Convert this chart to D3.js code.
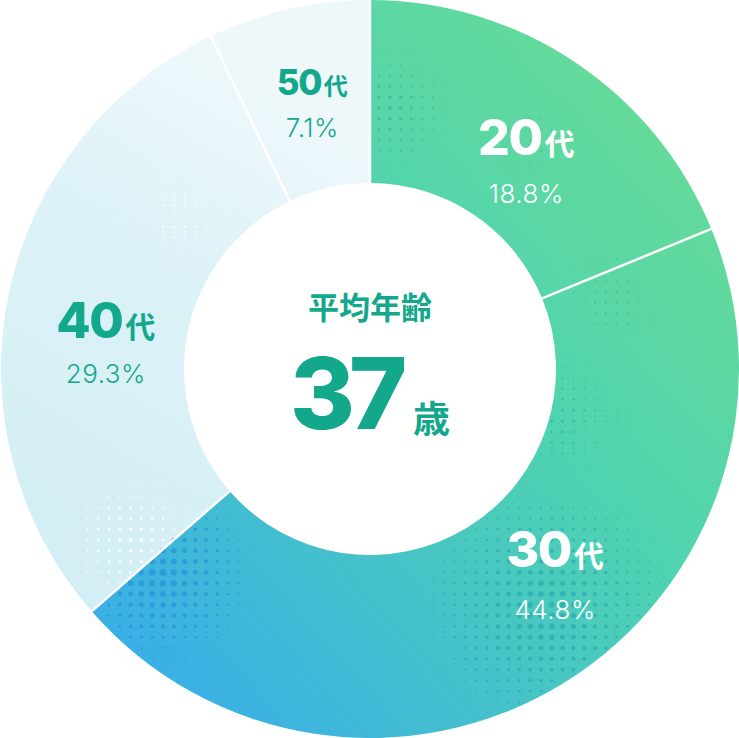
<!DOCTYPE html>
<html>
<head>
<meta charset="utf-8">
<script src="https://d3js.org/d3.v7.min.js"></script>
<style>
  body { margin: 0; background: #fff; }
  svg { display: block; }
  text { font-family: Inter, "Noto Sans CJK JP", sans-serif; }
</style>
</head>
<body>
<svg id="donut"></svg>
<script>
// ---- data ----
const ages = ["20", "30", "40", "50"];
const shares = [18.8, 44.8, 29.3, 7.1];
const shareLabels = ["18.8%", "44.8%", "29.3%", "7.1%"];
const averageAge = "37";

// ---- layout ----
const width = 739, height = 738;
const cx = 370, cy = 369;
const rOuter = 369, rInner = 186;

const svg = d3.select("#donut")
    .attr("width", width)
    .attr("height", height);

const defs = svg.append("defs");

// strong gradient for 20s / 30s
const gStrong = defs.append("linearGradient")
    .attr("id", "gStrong")
    .attr("gradientUnits", "userSpaceOnUse")
    .attr("x1", 700).attr("y1", 120).attr("x2", 90).attr("y2", 680);
gStrong.append("stop").attr("offset", 0).attr("stop-color", "#69dc95");
gStrong.append("stop").attr("offset", 0.42).attr("stop-color", "#4fd3b0");
gStrong.append("stop").attr("offset", 1).attr("stop-color", "#39ade9");

// pale gradient for 40s / 50s
const gPale = defs.append("linearGradient")
    .attr("id", "gPale")
    .attr("gradientUnits", "userSpaceOnUse")
    .attr("x1", 370).attr("y1", 0).attr("x2", 40).attr("y2", 560);
gPale.append("stop").attr("offset", 0).attr("stop-color", "#eef8fb");
gPale.append("stop").attr("offset", 0.3).attr("stop-color", "#dcf2f7");
gPale.append("stop").attr("offset", 1).attr("stop-color", "#cfecf4");

const fills = ["url(#gStrong)", "url(#gStrong)", "url(#gPale)", "url(#gPale)"];
const textColor = ["#ffffff", "#ffffff", "#13a88c", "#13a88c"];

const pie = d3.pie().sort(null).value(d => d)(shares);
const arc = d3.arc().innerRadius(rInner).outerRadius(rOuter);

const chart = svg.append("g").attr("transform", `translate(${cx},${cy})`);

chart.selectAll("path.seg")
  .data(pie)
  .join("path")
    .attr("class", "seg")
    .attr("d", arc)
    .attr("fill", (d, i) => fills[i]);

// halftone dots (decoration only), each patch kept inside one segment
const blobs = [
  {x: -210, y: 206, r: 110, max: 3.6, c: "#2a8fdc", o: 0.7, seg: 1},
  {x: -240, y: 171, r: 85, max: 2.2, c: "#ffffff", o: 0.8, seg: 2},
  {x: 175, y: 240, r: 150, max: 3.2, c: "#1fa3ae", o: 0.55, seg: 1},
  {x: 190, y: 50, r: 100, max: 1.6, c: "#1fa3ae", o: 0.5, seg: 1},
  {x: 240, y: -69, r: 80, max: 1.4, c: "#2fb089", o: 0.45, seg: -1},
  {x: 170, y: -229, r: 80, max: 1.4, c: "#3ab384", o: 0.45, seg: 0},
  {x: 20, y: -259, r: 80, max: 2.0, c: "#2fb089", o: 0.55, seg: 0},
  {x: -195, y: -149, r: 95, max: 1.5, c: "#ffffff", o: 0.85, seg: 2}
];
function segOf(x, y) {
  let a = Math.atan2(x, -y);
  if (a < 0) a += 2 * Math.PI;
  return pie.findIndex(p => a >= p.startAngle && a < p.endAngle);
}
const step = 10.8;
const dots = [];
for (let y = -rOuter; y <= rOuter; y += step) {
  for (let x = -rOuter; x <= rOuter; x += step) {
    const rr = Math.hypot(x, y);
    if (rr < rInner + 3 || rr > rOuter - 3) continue;
    const s = segOf(x, y);
    blobs.forEach(b => {
      if (b.seg >= 0 && b.seg !== s) return;
      const d = Math.hypot(x - b.x, y - b.y);
      if (d < b.r) {
        const size = b.max * (1 - d / b.r);
        if (size > 0.5) dots.push({x, y, size, c: b.c, o: b.o});
      }
    });
  }
}
chart.append("g")
  .selectAll("circle")
  .data(dots)
  .join("circle")
    .attr("cx", d => d.x).attr("cy", d => d.y)
    .attr("r", d => d.size)
    .attr("fill", d => d.c)
    .attr("opacity", d => d.o);

// separators
chart.selectAll("line.sep")
  .data(pie)
  .join("line")
    .attr("class", "sep")
    .attr("x1", d => rInner * Math.sin(d.startAngle))
    .attr("y1", d => -rInner * Math.cos(d.startAngle))
    .attr("x2", d => (rOuter + 2) * Math.sin(d.startAngle))
    .attr("y2", d => -(rOuter + 2) * Math.cos(d.startAngle))
    .attr("stroke", "#fff")
    .attr("stroke-width", 2.5);

// labels
const labelShift = [2.3, -11.4, -5, 0.9];   // degrees off the slice middle
const labelRadius = [265, 271, 266, 280];
const numSize = [50, 50, 50, 35];
const kanjiSize = [30, 30, 30, 24];
const pctSize = [26, 26, 26, 26];
const pctGap = [48, 52, 45, 42];

const lab = chart.selectAll("g.lab")
  .data(pie)
  .join("g")
    .attr("class", "lab")
    .attr("transform", (d, i) => {
      const a = (d.startAngle + d.endAngle) / 2 + labelShift[i] * Math.PI / 180;
      return `translate(${labelRadius[i] * Math.sin(a)},${-labelRadius[i] * Math.cos(a)})`;
    });

const head = lab.append("text")
    .attr("text-anchor", "middle")
    .attr("fill", (d, i) => textColor[i])
    .attr("font-weight", 800);
head.append("tspan")
    .attr("font-size", (d, i) => numSize[i])
    .attr("font-family", "Inter, sans-serif")
    .attr("letter-spacing", -1.5)
    .text((d, i) => ages[i]);
head.append("tspan")
    .attr("font-size", (d, i) => kanjiSize[i])
    .attr("font-family", "'Noto Sans CJK JP', sans-serif")
    .attr("font-weight", 700)
    .attr("dx", 3)
    .text("代");

lab.append("text")
    .attr("text-anchor", "middle")
    .attr("y", (d, i) => pctGap[i])
    .attr("fill", (d, i) => textColor[i])
    .attr("font-size", (d, i) => pctSize[i])
    .attr("font-weight", 300)
    .attr("letter-spacing", 0.5)
    .text((d, i) => shareLabels[i]);

// centre
chart.append("text")
    .attr("text-anchor", "middle")
    .attr("y", -50)
    .attr("fill", "#13a88c")
    .attr("font-size", 31)
    .attr("font-weight", 700)
    .attr("font-family", "'Noto Sans CJK JP', sans-serif")
    .text("平均年齢");

const big = chart.append("text")
    .attr("text-anchor", "middle")
    .attr("x", 0)
    .attr("y", 60)
    .attr("fill", "#13a88c")
    .attr("font-weight", 800);
big.append("tspan")
    .attr("font-size", 99)
    .attr("font-family", "Inter, sans-serif")
    .attr("letter-spacing", -6)
    .text(averageAge);
big.append("tspan")
    .attr("font-size", 37)
    .attr("dx", 12)
    .attr("dy", 4)
    .attr("font-weight", 700)
    .attr("font-family", "'Noto Sans CJK JP', sans-serif")
    .text("歳");
</script>
</body>
</html>
